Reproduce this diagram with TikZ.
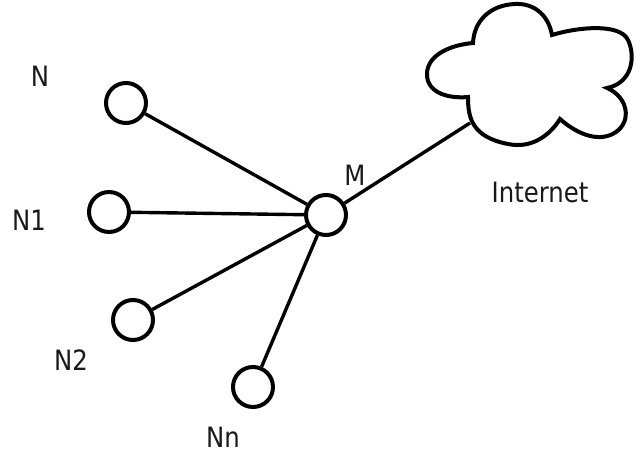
\documentclass[tikz,border=0pt]{standalone}
\usepackage{fontspec}
\newfontfamily\lblfont{DejaVu Sans}[FakeStretch=0.87]
\begin{document}
\begin{tikzpicture}[x=1pt,y=1pt,
  host/.style={circle,draw=black,line width=4pt,minimum size=40pt,inner sep=0pt,fill=white},
  link/.style={line width=3.4pt,black},
  lbl/.style={font=\lblfont\fontsize{28}{30}\selectfont,inner sep=0pt,text=black!90}]
\useasboundingbox[fill=white] (0,0) rectangle (643,453);
% hosts (pixel x, 453 - pixel y)
\node[host] (M)  at (326,238) {};
\node[host] (N)  at (126,350) {};
\node[host] (N1) at (109,241) {};
\node[host] (N2) at (133,133) {};
\node[host] (Nn) at (253,66) {};
% labels
\node[lbl] (lN)  at (40,377) {N};
\node[lbl] (lN1) at (29,233) {N1};
\node[lbl] (lN2) at (71,93) {N2};
\node[lbl] (lNn) at (223,16) {Nn};
\node[lbl] (lM)  at (355,278) {M};
\node[lbl] (lI)  at (540,261) {Internet};
% cloud
\coordinate (cA) at (468,356);
\coordinate (cC) at (560,334);
\coordinate (cD) at (607,365);
\coordinate (cE) at (552,418);
\coordinate (cF) at (473,410);
\coordinate (cL) at (470,330);
\draw[line width=4pt,line join=miter] (cA)
  .. controls (468,335) and (472,316) .. (508,309)
  .. controls (532,304) and (550,318) .. (cC)
  .. controls (578,318) and (600,310) .. (616,321)
  .. controls (632,332) and (628,356) .. (cD)
  .. controls (632,370) and (636,396) .. (628,413)
  .. controls (620,430) and (578,426) .. (cE)
  .. controls (548,440) and (532,450) .. (515,449)
  .. controls (490,448) and (474,432) .. (cF)
  .. controls (450,408) and (428,398) .. (427,380)
  .. controls (426,362) and (445,354) .. (cA) -- cycle;
% links
\draw[link] (N) -- (M);
\draw[link] (N1) -- (M);
\draw[link] (N2) -- (M);
\draw[link] (Nn) -- (M);
\draw[link] (M) -- (cL);
\end{tikzpicture}
\end{document}
